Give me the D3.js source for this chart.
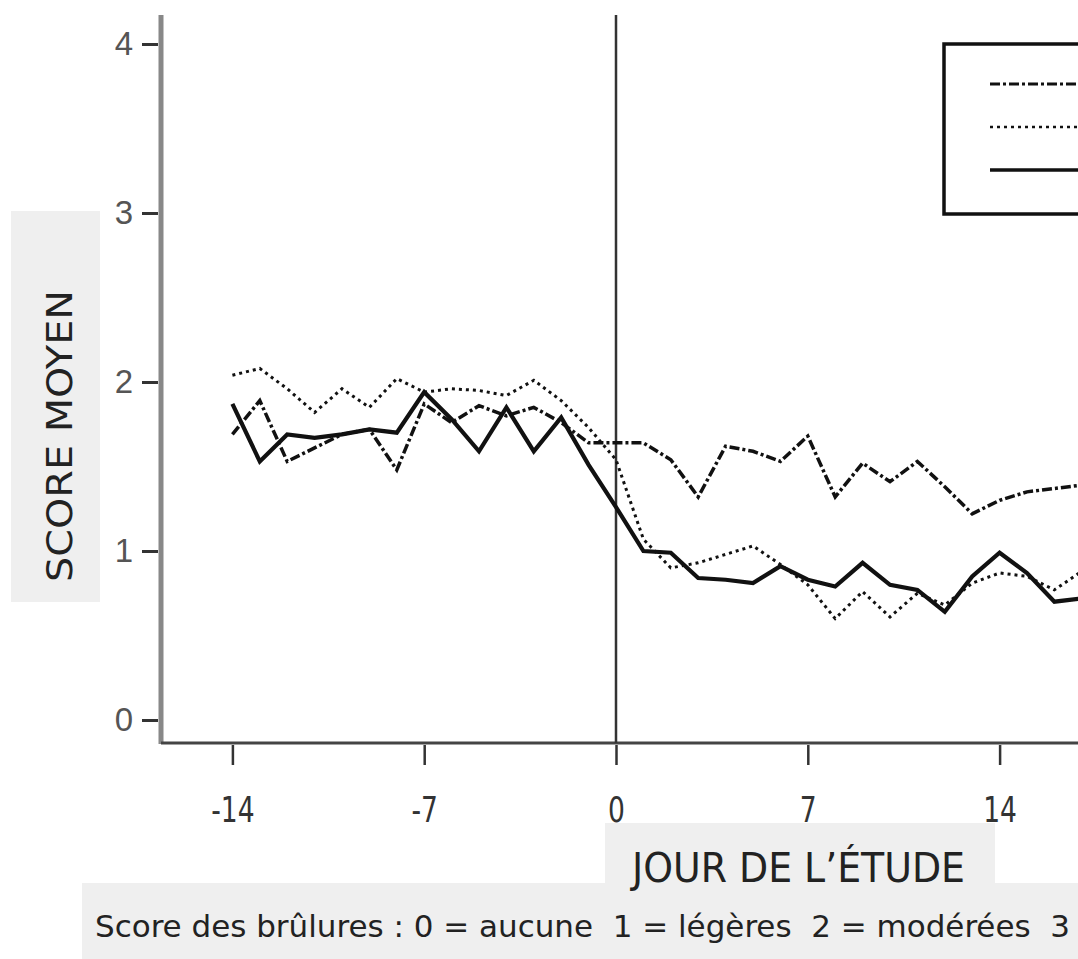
<!DOCTYPE html>
<html>
<head>
<meta charset="utf-8">
<script src="https://cdn.jsdelivr.net/npm/d3@7"></script>
<style>
  body { margin: 0; background: #fff; }
  svg { display: block; }
</style>
</head>
<body>
<svg id="chart"></svg>
<script>
// days of the study
var days = [-14,-13,-12,-11,-10,-9,-8,-7,-6,-5,-4,-3,-2,-1,0,1,2,3,4,5,6,7,8,9,10,11,12,13,14,15,16,17]

// mean score, dash-dot series
var dashDotScores = [1.69,1.89,1.53,1.61,1.69,1.72,1.48,1.87,1.76,1.86,1.80,1.85,1.76,1.64,1.64,1.64,1.54,1.32,1.62,1.59,1.53,1.68,1.32,1.52,1.41,1.53,1.38,1.22,1.30,1.35,1.37,1.39]
// mean score, dotted series
var dottedScores = [2.04,2.08,1.96,1.82,1.96,1.85,2.02,1.94,1.96,1.95,1.92,2.01,1.89,1.73,1.54,1.07,0.90,0.93,0.98,1.03,0.92,0.80,0.60,0.76,0.61,0.75,0.68,0.81,0.87,0.85,0.77,0.88]
// mean score, solid series
var solidScores = [1.87,1.53,1.69,1.67,1.69,1.72,1.70,1.94,1.78,1.59,1.85,1.59,1.79,1.51,1.26,1.00,0.99,0.84,0.83,0.81,0.91,0.83,0.79,0.93,0.80,0.77,0.64,0.85,0.99,0.87,0.70,0.72]

var xTicks = [-14,-7,0,7,14]
var yTicks = [0,1,2,3,4]

var yTitle = "SCORE MOYEN"
var xTitle = "JOUR DE L\u2019\u00C9TUDE"
var caption = "Score des br\u00FBlures : 0 = aucune  1 = l\u00E9g\u00E8res  2 = mod\u00E9r\u00E9es  3"

//dimensions
var dimensions = {
    width: 1078,
    height: 959,
    axisX: 161,
    axisY: 743,
    top: 15
}

var narrowFont = "'Liberation Sans Narrow', 'DejaVu Sans Condensed', 'Liberation Sans', sans-serif"
var boxColor = "#efefef"

var svg = d3.select("#chart")
            .attr("width", dimensions.width)
            .attr("height", dimensions.height)

//scales
var xScale = d3.scaleLinear()
               .domain([-14, 14])
               .range([232.4, 999.6])
var yScale = d3.scaleLinear()
               .domain([0, 4])
               .range([720, 44])

//grey label boxes
svg.append("rect")
   .attr("x", 11).attr("y", 211)
   .attr("width", 89).attr("height", 391)
   .attr("fill", boxColor)
svg.append("rect")
   .attr("x", 605).attr("y", 823)
   .attr("width", 390).attr("height", 60)
   .attr("fill", boxColor)
svg.append("rect")
   .attr("x", 82).attr("y", 883)
   .attr("width", dimensions.width - 82).attr("height", dimensions.height - 883)
   .attr("fill", boxColor)

//y axis
var yAxis = d3.axisLeft(yScale)
              .tickValues(yTicks)
              .tickSize(16)
              .tickPadding(9)
              .tickFormat(d => String(d))
var yAxisGroup = svg.append("g")
                    .attr("transform", `translate(${dimensions.axisX - 3},0)`)
                    .call(yAxis)
yAxisGroup.select(".domain").remove()
yAxisGroup.selectAll(".tick line")
          .attr("stroke", "#333")
          .attr("stroke-width", 3)
yAxisGroup.selectAll(".tick text")
          .attr("font-family", "'Liberation Sans', Arial, sans-serif")
          .attr("font-size", 33)
          .attr("fill", "#555")

//x axis
var xAxis = d3.axisBottom(xScale)
              .tickValues(xTicks)
              .tickSize(20)
              .tickPadding(31)
              .tickFormat(d => String(d))
var xAxisGroup = svg.append("g")
                    .attr("transform", `translate(0,${dimensions.axisY + 2})`)
                    .call(xAxis)
xAxisGroup.select(".domain").remove()
xAxisGroup.selectAll(".tick line")
          .attr("stroke", "#333")
          .attr("stroke-width", 2.5)
xAxisGroup.selectAll(".tick text")
          .attr("font-family", narrowFont)
          .attr("font-size", 36)
          .attr("fill", "#333")
          .attr("transform", "scale(0.82,1)")

//axis lines
svg.append("line")
   .attr("x1", dimensions.axisX).attr("x2", dimensions.axisX)
   .attr("y1", dimensions.top).attr("y2", dimensions.axisY + 1)
   .attr("stroke", "#888")
   .attr("stroke-width", 5)
svg.append("line")
   .attr("x1", dimensions.axisX).attr("x2", dimensions.width)
   .attr("y1", dimensions.axisY).attr("y2", dimensions.axisY)
   .attr("stroke", "#444")
   .attr("stroke-width", 3)

//day 0 line
svg.append("line")
   .attr("x1", xScale(0)).attr("x2", xScale(0))
   .attr("y1", dimensions.top).attr("y2", dimensions.axisY)
   .attr("stroke", "#333")
   .attr("stroke-width", 2.5)

//series
var line = d3.line()
             .x((d, i) => xScale(days[i]))
             .y(d => yScale(d))

var series = [
    {values: dashDotScores, dash: "10,3,3,3", width: 3.5},
    {values: dottedScores, dash: "3,4", width: 3},
    {values: solidScores, dash: null, width: 4.2}
]

svg.append("g")
   .selectAll("path")
   .data(series)
   .enter()
   .append("path")
   .attr("d", d => line(d.values))
   .attr("fill", "none")
   .attr("stroke", "#111")
   .attr("stroke-width", d => d.width)
   .attr("stroke-dasharray", d => d.dash)
   .attr("stroke-linejoin", "miter")

//legend
var legend = svg.append("g")
legend.append("rect")
      .attr("x", 944).attr("y", 44)
      .attr("width", 220).attr("height", 170)
      .attr("fill", "#fff")
      .attr("stroke", "#111")
      .attr("stroke-width", 3.5)
legend.selectAll("line")
      .data(series)
      .enter()
      .append("line")
      .attr("x1", 990).attr("x2", 1100)
      .attr("y1", (d, i) => 84 + i * 43)
      .attr("y2", (d, i) => 84 + i * 43)
      .attr("stroke", "#111")
      .attr("stroke-width", d => d.width - 0.5)
      .attr("stroke-dasharray", d => d.dash)

//titles
svg.append("text")
   .attr("transform", "translate(72,436) rotate(-90)")
   .attr("text-anchor", "middle")
   .attr("font-family", narrowFont)
   .attr("font-size", 36)
   .attr("fill", "#222")
   .attr("textLength", 292)
   .attr("lengthAdjust", "spacingAndGlyphs")
   .text(yTitle)

svg.append("text")
   .attr("x", 632).attr("y", 882)
   .attr("font-family", narrowFont)
   .attr("font-size", 40)
   .attr("fill", "#222")
   .attr("textLength", 333)
   .attr("lengthAdjust", "spacingAndGlyphs")
   .text(xTitle)

svg.append("text")
   .attr("x", 95).attr("y", 937)
   .attr("font-family", narrowFont)
   .attr("font-size", 31)
   .attr("fill", "#222")
   .attr("textLength", 975)
   .attr("lengthAdjust", "spacingAndGlyphs")
   .style("white-space", "pre")
   .text(caption)
</script>
</body>
</html>
